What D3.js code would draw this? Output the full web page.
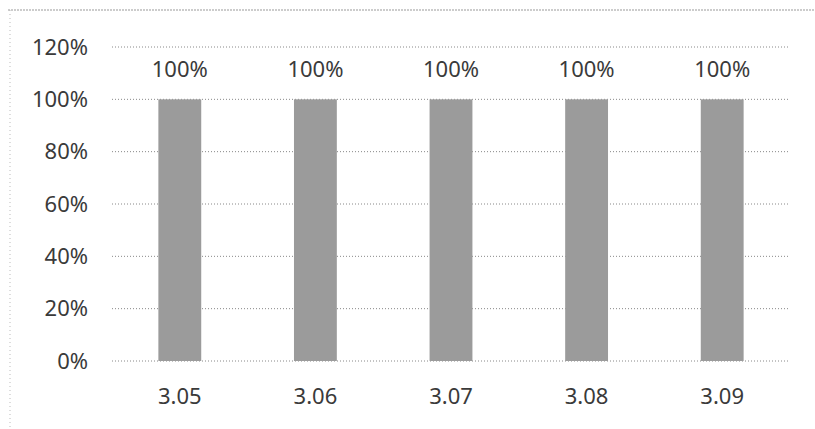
<!DOCTYPE html>
<html><head><meta charset="utf-8">
<script src="https://cdn.jsdelivr.net/npm/d3@7"></script>
<style>body{margin:0;background:#fff}svg{display:block}</style>
</head><body>
<script>
const categories = ["3.05","3.06","3.07","3.08","3.09"];
const values = [1.0, 1.0, 1.0, 1.0, 1.0];
const yTicks = [0, 0.2, 0.4, 0.6, 0.8, 1.0, 1.2];

const W = 815, H = 429;
const m = {left:112, right:25, top:47, bottom:68};
const svg = d3.select("body").append("svg").attr("width", W).attr("height", H);

// faint scan frame
svg.append("line").attr("x1",8).attr("x2",W).attr("y1",10).attr("y2",10)
  .attr("stroke","#999").attr("stroke-width",1).attr("stroke-dasharray","2,1");
svg.append("line").attr("x1",10).attr("x2",10).attr("y1",10).attr("y2",H)
  .attr("stroke","#bbb").attr("stroke-width",1).attr("stroke-dasharray","1,3");

const x = d3.scaleBand().domain(categories).range([m.left, W - m.right]).paddingInner(0.684).paddingOuter(0.342);
const y = d3.scaleLinear().domain([0, 1.2]).range([H - m.bottom, m.top]);

const font = "'Noto Sans', sans-serif";
const fs = 22;

// gridlines
svg.append("g").selectAll("line").data(yTicks).join("line")
  .attr("x1", m.left).attr("x2", W - m.right)
  .attr("y1", d => y(d)).attr("y2", d => y(d))
  .attr("stroke", "#888").attr("stroke-width", 1).attr("stroke-dasharray", "1,2");

// y axis labels
const yAxis = d3.axisLeft(y).tickValues(yTicks).tickFormat(d3.format(".0%")).tickSize(0).tickPadding(24);
const ya = svg.append("g").attr("transform", `translate(${m.left},0)`).call(yAxis);
ya.select(".domain").remove();
ya.selectAll("text").attr("font-family", font).attr("font-size", fs).attr("fill", "#3a3a3a");

// bars
svg.append("g").selectAll("rect").data(values).join("rect")
  .attr("x", (d,i) => x(categories[i])).attr("width", x.bandwidth())
  .attr("y", d => y(d)).attr("height", d => y(0) - y(d))
  .attr("fill", "#9b9b9b");

// data labels
svg.append("g").selectAll("text").data(values).join("text")
  .attr("x", (d,i) => x(categories[i]) + x.bandwidth()/2)
  .attr("y", d => y(d) - 22)
  .attr("text-anchor", "middle")
  .attr("font-family", font).attr("font-size", fs).attr("fill", "#3a3a3a")
  .text(d => d3.format(".0%")(d));

// x axis labels
const xAxis = d3.axisBottom(x).tickSize(0).tickPadding(27);
const xa = svg.append("g").attr("transform", `translate(0,${y(0)})`).call(xAxis);
xa.select(".domain").remove();
xa.selectAll("text").attr("font-family", font).attr("font-size", fs).attr("fill", "#3a3a3a");
</script>
</body></html>
